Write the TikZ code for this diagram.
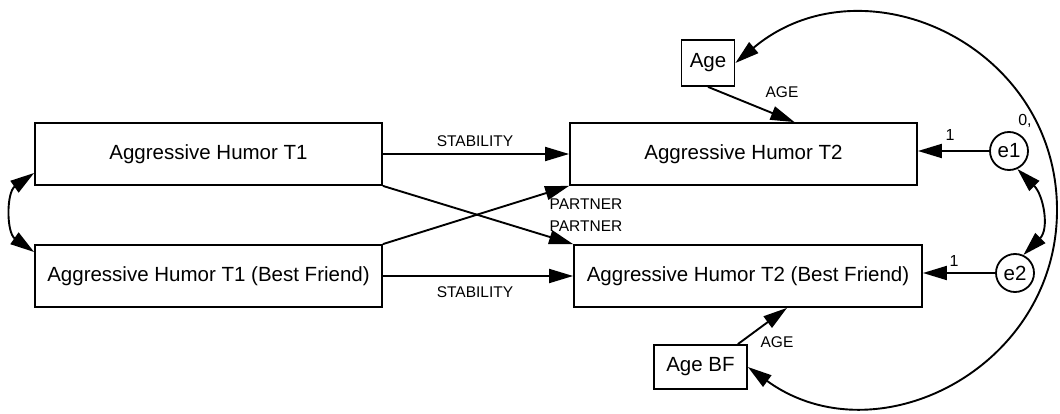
\documentclass[tikz,border=0pt]{standalone}
\usepackage{fontspec}
\setmainfont{Liberation Sans}
\usetikzlibrary{arrows.meta,calc}
\begin{document}
\begin{tikzpicture}[x=1pt,y=1pt,
 box/.style={draw,line width=1.8pt,inner sep=0pt,font=\fontsize{20.5}{24}\selectfont},
 err/.style={draw,circle,line width=1.8pt,minimum size=38pt,inner sep=0pt,font=\fontsize{20.5}{24}\selectfont},
 tip/.tip={Triangle[length=24pt,width=14pt]},
 arr/.style={line width=1.9pt,-tip},
 cov/.style={line width=1.9pt,tip-tip},
 lab/.style={font=\fontsize{15.5}{18}\selectfont},
 small/.style={font=\fontsize{16}{18}\selectfont}]
\useasboundingbox (0,0) rectangle (1060,413);
% boxes
\node[box,minimum width=347pt,minimum height=62pt] (t1) at (208.5,259) {Aggressive Humor T1};
\node[box,minimum width=347pt,minimum height=62pt] (t1bf) at (208.5,137) {Aggressive Humor T1 (Best Friend)};
\node[box,minimum width=347pt,minimum height=62pt] (t2) at (743.5,259) {Aggressive Humor T2};
\node[box,minimum width=348pt,minimum height=62pt] (t2bf) at (748,137) {Aggressive Humor T2 (Best Friend)};
\node[box,minimum width=53pt,minimum height=46pt] (age) at (708,350) {Age};
\node[box,minimum width=93pt,minimum height=44pt] (agebf) at (700.5,46) {Age BF};
\node[err] (e1) at (1009,262) {e1};
\node[err] (e2) at (1015,140) {e2};
% helper coordinates
\coordinate (t2in) at ($(t2.north)+(51,0)$);
\coordinate (agebfout) at ($(agebf.north east)+(-10,0)$);
\coordinate (t2bfin) at ($(t2bf.south)+(39,0)$);
\coordinate (rt) at (1057,203);
% paths
\draw[arr] (t1.east) -- (t2.west);
\draw[arr] (t1bf.east) -- (t2bf.west);
\draw[arr] (t1.south east) -- (t2bf.north west);
\draw[arr] (t1bf.north east) -- (t2.south west);
\draw[arr] (age.south) -- (t2in);
\draw[arr] (agebfout) -- (t2bfin);
\draw[arr] (e1.west) -- (e1.west -| t2.east);
\draw[arr] (e2.west) -- (e2.west -| t2bf.east);
% covariances
\draw[cov] ([yshift=-19pt]t1.west) to[out=215,in=145,looseness=1.1] ([yshift=24pt]t1bf.west);
\draw[cov] (e1.-65) to[out=-45,in=45,looseness=1.1] (e2.65);
\draw[line width=1.9pt,tip-] (age.east) to[out=40,in=90,looseness=1.2] (rt);
\draw[line width=1.9pt,-tip] (rt) to[out=-90,in=-36,looseness=1.17] (agebf.east);
% labels
\node[lab] (l1) at (475,272) {STABILITY};
\node[lab] (l2) at (475,121) {STABILITY};
\node[lab] (l3) at (586,209) {PARTNER};
\node[lab] (l4) at (586,187) {PARTNER};
\node[lab] (l5) at (782,321) {AGE};
\node[lab] (l6) at (777,71) {AGE};
\node[small] (n1) at (950,278) {1};
\node[small] (n2) at (954,152) {1};
\node[small] (n0) at (1025,292) {0,};
\end{tikzpicture}
\end{document}
